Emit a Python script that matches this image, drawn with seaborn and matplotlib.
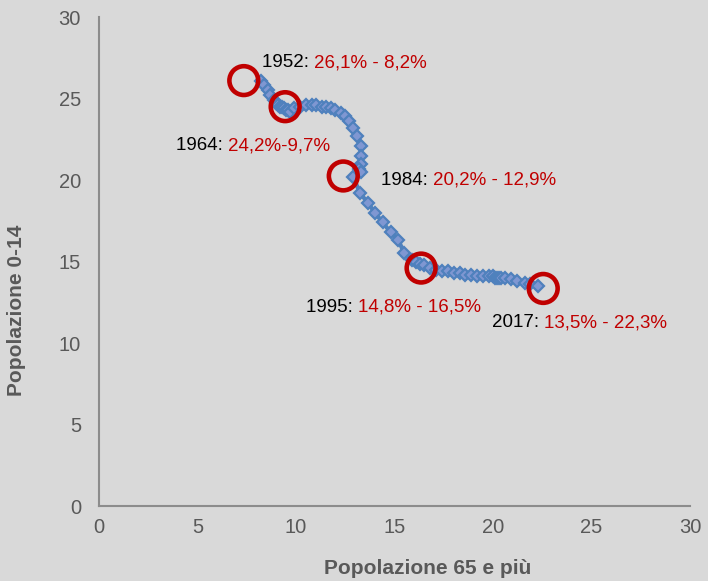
import numpy as np
import pandas as pd
import matplotlib
matplotlib.use("Agg")
import matplotlib.pyplot as plt
import seaborn as sns

# Serie annuale 1952-2017: quota popolazione 65+ (x) e 0-14 (y), in %
anni = list(range(1952, 2018))
pop_65 = [8.2, 8.4, 8.6, 8.7, 8.9, 9.0, 9.1, 9.2, 9.3, 9.4, 9.5, 9.6, 9.7,
          9.9, 10.2, 10.5, 10.8, 11.0, 11.3, 11.5, 11.8, 12.0, 12.3, 12.5, 12.7,
          12.9, 13.1, 13.3, 13.3, 13.3, 13.2, 13.3, 12.9,
          13.25, 13.65, 14.0, 14.4, 14.8, 15.2, 15.5, 15.9, 16.1, 16.3, 16.5,
          16.8, 17.1, 17.4, 17.7, 18.0, 18.3, 18.6, 18.9, 19.2, 19.5, 19.8,
          20.0, 20.1, 20.2, 20.3, 20.4, 20.6, 20.9, 21.2, 21.6, 21.9, 22.3]
pop_014 = [26.1, 25.8, 25.5, 25.2, 24.9, 24.7, 24.6, 24.5, 24.5, 24.4, 24.3, 24.3, 24.2,
           24.4, 24.5, 24.6, 24.6, 24.6, 24.5, 24.5, 24.4, 24.3, 24.1, 23.9, 23.6,
           23.2, 22.7, 22.1, 21.5, 21.0, 20.7, 20.5, 20.2,
           19.2, 18.6, 18.0, 17.4, 16.8, 16.3, 15.5, 15.1, 14.95, 14.85, 14.8,
           14.6, 14.5, 14.4, 14.4, 14.3, 14.3, 14.2, 14.2, 14.1, 14.1, 14.1,
           14.1, 14.0, 14.0, 14.0, 14.0, 14.0, 13.9, 13.8, 13.7, 13.6, 13.5]

# Cerchi rossi ed etichette
cerchi_x = [7.35, 9.45, 12.4, 16.35, 22.55]
cerchi_y = [26.1, 24.5, 20.25, 14.6, 13.35]
etich_anno = ["1952: ", "1964: ", "1984: ", "1995: ", "2017: "]
etich_val = ["26,1% - 8,2%", "24,2%-9,7%", "20,2% - 12,9%", "14,8% - 16,5%", "13,5% - 22,3%"]
etich_x = [8.25, 3.9, 14.3, 10.5, 19.95]
etich_y = [27.2, 22.1, 20.0, 12.2, 11.25]

df = pd.DataFrame({"anno": anni, "over65": pop_65, "under14": pop_014})

sfondo = "#d9d9d9"
grigio = "#595959"
rosso = "#c00000"

sns.set_style("white")
plt.rcParams["font.family"] = ["Liberation Sans", "DejaVu Sans"]

fig = plt.figure(figsize=(7.08, 5.81), dpi=100, facecolor=sfondo)
ax = fig.add_axes([0.1398, 0.129, 0.8348, 0.8417])
ax.set_facecolor(sfondo)

sns.lineplot(data=df, x="over65", y="under14", sort=False, estimator=None,
             color="#4f81bd", linewidth=3, marker="D", markersize=6.5,
             markerfacecolor="#7f97d2", markeredgecolor="#4f81bd",
             markeredgewidth=1.6, ax=ax)

ax.scatter(cerchi_x, cerchi_y, s=430, facecolors="none", edgecolors=rosso,
           linewidths=3.3, zorder=5)

for anno, val, tx, ty in zip(etich_anno, etich_val, etich_x, etich_y):
    t = ax.text(tx, ty, anno, color="black", fontsize=13.5, va="center", ha="left")
    ax.annotate(val, xy=(1, 0), xycoords=t, color=rosso, fontsize=13.5,
                va="bottom", ha="left")

ax.set_xlim(0, 30)
ax.set_ylim(0, 30)
ax.set_xticks(range(0, 31, 5))
ax.set_yticks(range(0, 31, 5))
ax.tick_params(axis="both", length=0, labelsize=14.5, labelcolor=grigio)
ax.tick_params(axis="x", pad=8.5)
ax.tick_params(axis="y", pad=13)

for lato in ["top", "right"]:
    ax.spines[lato].set_visible(False)
for lato in ["left", "bottom"]:
    ax.spines[lato].set_color("#8c8c8c")
    ax.spines[lato].set_linewidth(1.5)

ax.set_xlabel("Popolazione 65 e più", fontsize=15, fontweight="bold", color=grigio,
              va="center")
ax.set_ylabel("Popolazione 0-14", fontsize=15, fontweight="bold", color=grigio,
              va="center")
ax.xaxis.set_label_coords(0.557, -0.127)
ax.yaxis.set_label_coords(-0.139, 0.40)

fig.savefig("out.png", dpi=100, facecolor=sfondo)
